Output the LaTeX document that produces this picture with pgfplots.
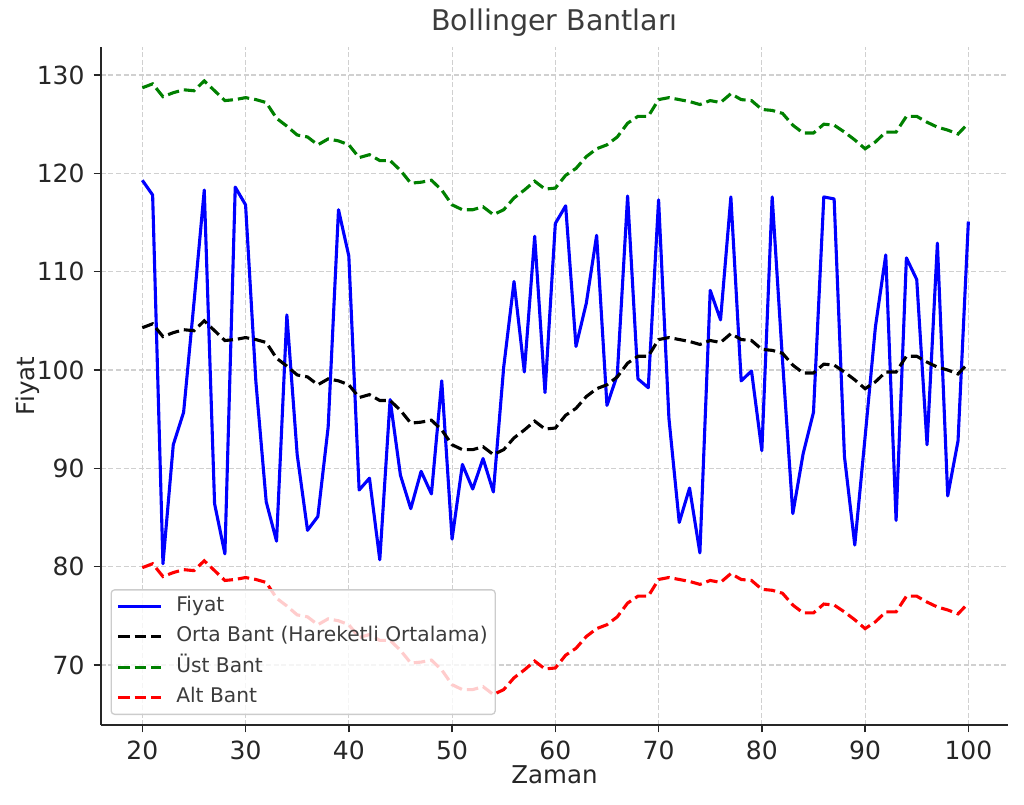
\documentclass[border=0pt]{standalone}
\usepackage{pgfplots}
\pgfplotsset{compat=1.18}
\usepackage{fontspec}
\setmainfont{DejaVu Sans}
\definecolor{txt}{HTML}{262626}
\definecolor{gridc}{HTML}{D0D0D0}
\definecolor{legc}{HTML}{CCCCCC}
\definecolor{mplgreen}{HTML}{008000}

\pgfplotstableread{
x fiyat orta ust alt
20 119.3 104.3 128.7 79.9
21 117.8 104.7 129.1 80.3
22 80.3 103.4 127.8 79.0
23 92.4 103.8 128.2 79.4
24 95.7 104.1 128.5 79.7
25 106.8 104.0 128.4 79.6
26 118.3 105.0 129.4 80.6
27 86.4 104.0 128.4 79.6
28 81.3 103.0 127.4 78.6
29 118.6 103.1 127.5 78.7
30 116.8 103.3 127.7 78.9
31 98.8 103.1 127.5 78.7
32 86.6 102.8 127.2 78.4
33 82.6 101.2 125.6 76.8
34 105.6 100.4 124.8 76.0
35 91.4 99.5 123.9 75.1
36 83.7 99.3 123.7 74.9
37 85.1 98.5 122.9 74.1
38 94.2 99.1 123.5 74.7
39 116.3 98.9 123.3 74.5
40 111.6 98.5 122.9 74.1
41 87.8 97.2 121.6 72.8
42 89.0 97.5 121.9 73.1
43 80.7 96.9 121.3 72.5
44 97.0 96.9 121.3 72.5
45 89.3 95.9 120.3 71.5
46 85.9 94.6 119.0 70.2
47 89.7 94.7 119.1 70.3
48 87.4 94.9 119.3 70.5
49 98.9 93.9 118.3 69.5
50 82.8 92.4 116.8 68.0
51 90.4 91.9 116.3 67.5
52 87.9 91.9 116.3 67.5
53 91.0 92.2 116.6 67.8
54 87.6 91.4 115.8 67.0
55 100.3 91.9 116.3 67.5
56 109.0 93.1 117.5 68.7
57 99.8 93.9 118.3 69.5
58 113.6 94.8 119.2 70.4
59 97.7 94.0 118.4 69.6
60 114.9 94.1 118.5 69.7
61 116.7 95.4 119.8 71.0
62 102.4 96.1 120.5 71.7
63 106.8 97.3 121.7 72.9
64 113.7 98.1 122.5 73.7
65 96.4 98.5 122.9 74.1
66 99.5 99.3 123.7 74.9
67 117.7 100.7 125.1 76.3
68 99.1 101.4 125.8 77.0
69 98.2 101.4 125.8 77.0
70 117.3 103.1 127.5 78.7
71 95.1 103.3 127.7 78.9
72 84.5 103.1 127.5 78.7
73 88.0 102.9 127.3 78.5
74 81.4 102.6 127.0 78.2
75 108.1 103.0 127.4 78.6
76 105.1 102.8 127.2 78.4
77 117.6 103.7 128.1 79.3
78 98.9 103.1 127.5 78.7
79 99.9 103.0 127.4 78.6
80 91.8 102.1 126.5 77.7
81 117.6 102.0 126.4 77.6
82 101.0 101.7 126.1 77.3
83 85.4 100.5 124.9 76.1
84 91.5 99.7 124.1 75.3
85 95.7 99.7 124.1 75.3
86 117.6 100.6 125.0 76.2
87 117.4 100.5 124.9 76.1
88 91.2 99.8 124.2 75.4
89 82.2 99.0 123.4 74.6
90 93.2 98.1 122.5 73.7
91 104.4 98.8 123.2 74.4
92 111.7 99.8 124.2 75.4
93 84.7 99.8 124.2 75.4
94 111.4 101.4 125.8 77.0
95 109.2 101.4 125.8 77.0
96 92.4 100.8 125.2 76.4
97 112.9 100.3 124.7 75.9
98 87.2 100.0 124.4 75.6
99 92.8 99.6 124.0 75.2
100 115.1 100.7 125.1 76.3
}\datatable

\begin{document}
\begin{tikzpicture}
\begin{axis}[
  at={(0pt,0pt)}, anchor=south west,
  scale only axis, width=907pt, height=678pt,
  xmin=16, xmax=103.84, ymin=63.9, ymax=132.85,
  xtick={20,30,...,100}, ytick={70,80,...,130},
  axis x line*=bottom, axis y line*=left,
  axis line style={color=txt, line width=1.7pt},
  tick align=outside, major tick length=7.3pt,
  tick style={color=txt, line width=1.6pt},
  grid=major,
  grid style={color=gridc, line width=1.1pt, dash pattern=on 5pt off 2.5pt},
  /pgf/number format/assume math mode=true,
  ticklabel style={font=\fontsize{25}{29}\selectfont, text=txt, inner sep=0pt},
  xticklabel style={anchor=base, yshift=-27.3pt},
  yticklabel style={anchor=east, xshift=-9pt},
  xlabel={Zaman}, ylabel={Fiyat},
  xlabel style={font=\fontsize{24.5}{28}\selectfont, text=txt, at={(axis description cs:0.5,-0.087)}, anchor=base},
  ylabel style={font=\fontsize{24.5}{28}\selectfont, text=txt, at={(axis description cs:-0.0728,0.5)}, anchor=base, rotate=0},
  title={Bollinger Bantları},
  title style={font=\fontsize{28.5}{32}\selectfont, text=txt!90, at={(axis description cs:0.5,1)}, anchor=base, yshift=10pt},
  legend image code/.code={\draw[#1] (0pt,0pt) -- (43pt,0pt);},
  legend cell align=left,
  legend style={at={(axis description cs:0.0105,0.01475)}, anchor=south west,
    fill=white, fill opacity=0.8, text opacity=1, draw=legc, draw opacity=1,
    rounded corners=3.5pt, line width=1.3pt,
    font=\fontsize{20.2}{24}\selectfont, text=txt!90,
    inner xsep=5.5pt, inner ysep=4.5pt, row sep=6.5pt, column sep=11.5pt,
    nodes={inner sep=2pt, text height=15pt, text depth=5pt}},
]
\addplot[color=blue, line width=3.1pt, line join=round] table[x=x, y=fiyat] {\datatable};
\addlegendentry{Fiyat}
\addplot[color=black, line width=3.1pt, dash pattern=on 11.5pt off 5pt] table[x=x, y=orta] {\datatable};
\addlegendentry{Orta Bant (Hareketli Ortalama)}
\addplot[color=mplgreen, line width=3.1pt, dash pattern=on 11.5pt off 5pt] table[x=x, y=ust] {\datatable};
\addlegendentry{Üst Bant}
\addplot[color=red, line width=3.1pt, dash pattern=on 11.5pt off 5pt] table[x=x, y=alt] {\datatable};
\addlegendentry{Alt Bant}
\end{axis}
\pgfresetboundingbox
\path[use as bounding box] (-101pt,-79pt) rectangle (923pt,725pt);
\end{tikzpicture}
\end{document}
